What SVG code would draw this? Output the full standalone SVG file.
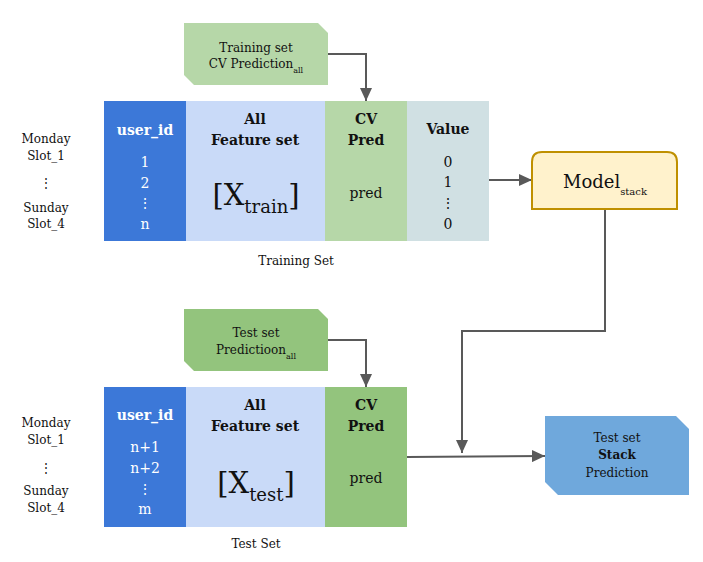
<svg xmlns="http://www.w3.org/2000/svg" width="703" height="562" viewBox="0 0 703 562">
<style>
text{font-family:"DejaVu Serif","Liberation Serif",serif;fill:#111111;text-anchor:middle}
.b{font-weight:bold}
.w{fill:#ffffff}
.s12{font-size:12px}
.s14{font-size:14px}
.big{font-size:29px}
.sub{font-size:18px}
.conn{fill:none;stroke:#595959;stroke-width:2}
</style>
<defs>
<marker id="ah" markerUnits="userSpaceOnUse" markerWidth="14" markerHeight="12" refX="13" refY="6" orient="auto">
<path d="M0,0 L13,6 L0,12 Z" fill="#595959"/>
</marker>
</defs>
<rect width="703" height="562" fill="#ffffff"/>

<g id="connectors">
<path class="conn" d="M328,54 H366 V101" marker-end="url(#ah)"/>
<path class="conn" d="M489,180 H532" marker-end="url(#ah)"/>
<path class="conn" d="M605,209 V331 H462 V453" marker-end="url(#ah)"/>
<path class="conn" d="M328,340 H366 V387" marker-end="url(#ah)"/>
<path class="conn" d="M407,457 L545,456" marker-end="url(#ah)"/>
</g>

<g id="train-note">
<path d="M184,23 H318 L328,33 V85 H194 L184,75 Z" fill="#b6d7a8"/>
<text class="s12" x="256" y="52">Training set</text>
<text class="s12" x="256" y="68">CV Prediction<tspan font-size="8" dy="5">all</tspan></text>
</g>

<g id="train-labels">
<text class="s12" x="46" y="143">Monday</text>
<text class="s12" x="46" y="160">Slot_1</text>
<text class="s12" x="46" y="187">⋮</text>
<text class="s12" x="46" y="212">Sunday</text>
<text class="s12" x="46" y="228">Slot_4</text>
</g>

<g id="train-userid">
<rect x="104" y="101" width="82" height="140" fill="#3c78d8"/>
<text class="s14 b w" x="145" y="135">user_id</text>
<text class="s14 w" x="145" y="167">1</text>
<text class="s14 w" x="145" y="188">2</text>
<text class="s14 w" x="145" y="208">⋮</text>
<text class="s14 w" x="145" y="229">n</text>
</g>

<g id="train-features">
<rect x="186" y="101" width="139" height="140" fill="#c9daf8"/>
<text class="s14 b" x="255" y="124">All</text>
<text class="s14 b" x="255" y="145">Feature set</text>
<text class="big" x="256" y="205">[X<tspan class="sub" dy="8">train</tspan><tspan dy="-8">]</tspan></text>
</g>

<g id="train-cvpred">
<rect x="325" y="101" width="82" height="140" fill="#b6d7a8"/>
<text class="s14 b" x="366" y="124">CV</text>
<text class="s14 b" x="366" y="145">Pred</text>
<text class="s14" x="366" y="198">pred</text>
</g>

<g id="train-value">
<rect x="407" y="101" width="82" height="140" fill="#d0e0e3"/>
<text class="s14 b" x="448" y="134">Value</text>
<text class="s14" x="448" y="167">0</text>
<text class="s14" x="448" y="187">1</text>
<text class="s14" x="448" y="208">⋮</text>
<text class="s14" x="448" y="229">0</text>
</g>

<g id="train-caption">
<text class="s12" x="296" y="265">Training Set</text>
</g>

<g id="model">
<path d="M532,209 V162 Q532,152 542,152 H667 Q677,152 677,162 V209 Z" fill="#fff2cc" stroke="#bf9000" stroke-width="2"/>
<text x="605" y="188" font-size="18">Model<tspan font-size="10" dy="7">stack</tspan></text>
</g>

<g id="test-note">
<path d="M184,309 H318 L328,319 V371 H194 L184,361 Z" fill="#93c47d"/>
<text class="s12" x="256" y="337">Test set</text>
<text class="s12" x="256" y="354">Predictioon<tspan font-size="8" dy="5">all</tspan></text>
</g>

<g id="test-labels">
<text class="s12" x="46" y="427">Monday</text>
<text class="s12" x="46" y="444">Slot_1</text>
<text class="s12" x="46" y="472">⋮</text>
<text class="s12" x="46" y="495">Sunday</text>
<text class="s12" x="46" y="512">Slot_4</text>
</g>

<g id="test-userid">
<rect x="104" y="387" width="82" height="140" fill="#3c78d8"/>
<text class="s14 b w" x="145" y="420">user_id</text>
<text class="s14 w" x="145" y="452">n+1</text>
<text class="s14 w" x="145" y="473">n+2</text>
<text class="s14 w" x="145" y="494">⋮</text>
<text class="s14 w" x="145" y="514">m</text>
</g>

<g id="test-features">
<rect x="186" y="387" width="139" height="140" fill="#c9daf8"/>
<text class="s14 b" x="255" y="410">All</text>
<text class="s14 b" x="255" y="431">Feature set</text>
<text class="big" x="256" y="493">[X<tspan class="sub" dy="8">test</tspan><tspan dy="-8">]</tspan></text>
</g>

<g id="test-cvpred">
<rect x="325" y="387" width="82" height="140" fill="#93c47d"/>
<text class="s14 b" x="366" y="410">CV</text>
<text class="s14 b" x="366" y="431">Pred</text>
<text class="s14" x="366" y="483">pred</text>
</g>

<g id="test-caption">
<text class="s12" x="256" y="548">Test Set</text>
</g>

<g id="stack-prediction">
<path d="M545,416 H676 L689,429 V495 H558 L545,482 Z" fill="#6fa8dc"/>
<text class="s12" x="617" y="442">Test set</text>
<text class="s12 b" x="617" y="459">Stack</text>
<text class="s12" x="617" y="477">Prediction</text>
</g>
</svg>
